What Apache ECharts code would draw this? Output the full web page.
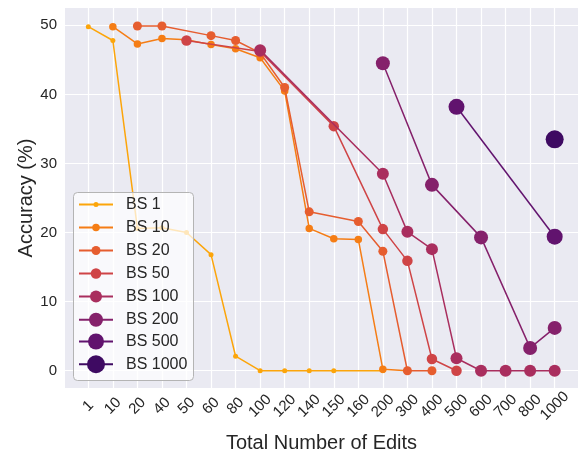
<!DOCTYPE html>
<html>
<head>
<meta charset="utf-8">
<script src="https://cdn.jsdelivr.net/npm/echarts@6/dist/echarts.min.js"></script>
<style>html,body{margin:0;padding:0;background:#fff;}#c{width:578px;height:453px;}</style>
</head>
<body>
<div id="c"></div>
<script>
const categories = ['1','10','20','40','50','60','80','100','120','140','150','160','200','300','400','500','600','700','800','1000'];
const yTicks = [0, 10, 20, 30, 40, 50];

const seriesNames = ['BS 1','BS 10','BS 20','BS 50','BS 100','BS 200','BS 500','BS 1000'];

const bs1Edits = [1,10,20,40,50,60,80,100,120,140,150,200];
const bs1Acc = [49.8,47.8,20.6,20.7,20.0,16.8,2.1,0,0,0,0,0];

const bs10Edits = [10,20,40,50,60,80,100,120,140,150,160,200,300];
const bs10Acc = [49.8,47.3,48.1,47.9,47.2,46.6,45.3,40.5,20.6,19.1,19.0,0.2,0];

const bs20Edits = [20,40,60,80,100,120,140,160,200,300,400];
const bs20Acc = [49.9,49.9,48.5,47.8,46.0,41.0,23.0,21.6,17.3,0,0];

const bs50Edits = [50,100,150,200,300,400,500];
const bs50Acc = [47.8,46.2,35.4,20.5,15.9,1.7,0];

const bs100Edits = [100,200,300,400,500,600,700,800,1000];
const bs100Acc = [46.4,28.5,20.1,17.6,1.8,0,0,0,0];

const bs200Edits = [200,400,600,800,1000];
const bs200Acc = [44.5,26.9,19.3,3.3,6.2];

const bs500Edits = [500,1000];
const bs500Acc = [38.2,19.4];

const bs1000Edits = [1000];
const bs1000Acc = [33.5];

const allEdits = [bs1Edits,bs10Edits,bs20Edits,bs50Edits,bs100Edits,bs200Edits,bs500Edits,bs1000Edits];
const allAcc = [bs1Acc,bs10Acc,bs20Acc,bs50Acc,bs100Acc,bs200Acc,bs500Acc,bs1000Acc];

const colors = ['#fca50a','#f57d15','#e65d2f','#cf4446','#a92e5e','#85216b','#61136e','#3e0a62'];
const sizes = [5, 7.5, 9, 10.5, 12, 14, 16, 18];
const legendRows = [204, 227, 250, 273, 296, 319, 342, 365];

const series = seriesNames.map((name, k) => ({
  name: name,
  type: 'line',
  symbol: 'circle',
  symbolSize: sizes[k],
  showSymbol: true,
  color: colors[k],
  lineStyle: { width: 1.5, color: colors[k] },
  itemStyle: { color: colors[k] },
  data: allEdits[k].map((e, i) => [categories.indexOf(String(e)), allAcc[k][i]]),
  z: 2 + k * 0.01,
  animation: false
}));

const legends = seriesNames.map((name, k) => {
  const ih = sizes[k] / 0.8;
  return {
    data: [name],
    orient: 'vertical',
    left: 78,
    top: legendRows[k] - Math.max(ih, 15) / 2 + (ih > 15 ? 1.5 : 0),
    padding: 0,
    itemWidth: 34,
    itemHeight: ih,
    z: 20,
    selectedMode: false,
    textStyle: { fontSize: 16, color: '#262626', fontFamily: 'Liberation Sans, Arial, sans-serif', padding: [0,0,0,8] }
  };
});

const chart = echarts.init(document.getElementById('c'), null, { renderer: 'canvas' });
chart.setOption({
  animation: false,
  backgroundColor: '#ffffff',
  textStyle: { fontFamily: 'Liberation Sans, Arial, sans-serif' },
  grid: { left: 65, top: 8, right: 0, bottom: 65, show: true, backgroundColor: '#eaeaf2', borderWidth: 0, containLabel: false, outerBoundsMode: 'none' },
  xAxis: {
    type: 'value',
    min: -0.95,
    max: 19.95,
    name: 'Total Number of Edits',
    nameLocation: 'middle',
    nameMoveOverlap: false,
    nameGap: 45,
    nameTextStyle: { fontSize: 20, color: '#262626' },
    axisLine: { show: false },
    axisTick: { show: false, customValues: categories.map((c, i) => i) },
    axisLabel: {
      customValues: categories.map((c, i) => i),
      formatter: v => categories[Math.round(v)],
      rotate: 45,
      align: 'center',
      verticalAlign: 'middle',
      margin: 18,
      fontSize: 15,
      color: '#262626'
    },
    splitLine: { show: true, lineStyle: { color: '#ffffff', width: 1.2 } }
  },
  yAxis: {
    type: 'value',
    min: -2.5,
    max: 52.5,
    name: 'Accuracy (%)',
    nameLocation: 'middle',
    nameMoveOverlap: false,
    nameGap: 29,
    nameTextStyle: { fontSize: 20, color: '#262626' },
    axisLine: { show: false },
    axisTick: { show: false, customValues: yTicks },
    axisLabel: { customValues: yTicks, margin: 8, fontSize: 15, color: '#262626' },
    splitLine: { show: true, lineStyle: { color: '#ffffff', width: 1.2 } }
  },
  legend: legends,
  graphic: [{
    type: 'rect',
    left: 73, top: 192, z: 10,
    shape: { width: 120, height: 188, r: 4 },
    style: { fill: 'rgba(255,255,255,0.72)', stroke: '#b4b4b4', lineWidth: 1 }
  }],
  series: series
});
</script>
</body>
</html>
